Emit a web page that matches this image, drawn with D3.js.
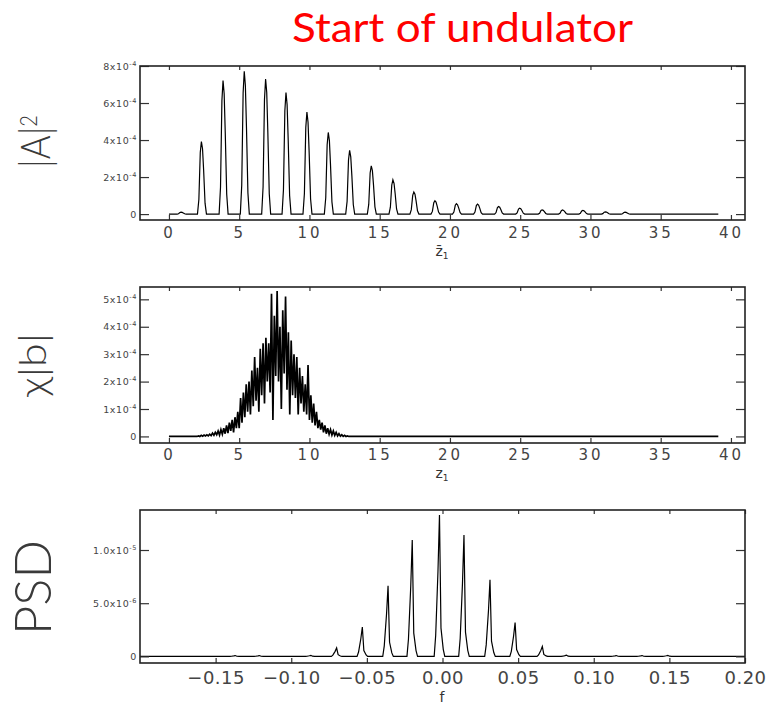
<!DOCTYPE html>
<html>
<head>
<meta charset="utf-8">
<script src="https://cdn.jsdelivr.net/npm/d3@7"></script>
<style>
  body { margin: 0; background: #fff; }
  svg text { font-family: "DejaVu Sans", sans-serif; }
</style>
</head>
<body>
<div id="chart"></div>
<script>
// panel 1 : |A|^2 peaks (z1, value in 1e-4)
const ampPeakZ = [0.9, 2.35, 3.89, 5.4, 6.92, 8.37, 9.86, 11.38, 12.9, 14.44, 15.98, 17.47, 18.97, 20.5, 22.0, 23.5, 25.0, 26.6, 28.05, 29.5, 31.1, 32.5];
const ampPeakVal = [0.1, 3.92, 7.22, 7.71, 7.3, 6.57, 5.51, 4.41, 3.44, 2.61, 1.85, 1.19, 0.72, 0.56, 0.54, 0.41, 0.32, 0.23, 0.22, 0.2, 0.12, 0.1];
const ampRange = [0, 39.1];

// panel 2 : chi|b| samples, z1 from 2.0 in steps of 0.1 (value in 1e-4)
const chiStart = 2.0, chiStep = 0.1;
const chiVal = [
  0, 0.02, 0, 0.04, 0.01, 0.05, 0.02, 0.06, 0.02, 0.08,
  0.03, 0.12, 0.04, 0.15, 0.06, 0.2, 0.05, 0.25, 0.08, 0.3,
  0.1, 0.4, 0.12, 0.5, 0.2, 0.6, 0.15, 0.7, 0.3, 0.9,
  0.3, 1.4, 0.5, 1.6, 0.7, 1.9, 0.9, 2.0, 0.8, 2.4,
  1.1, 2.9, 1.3, 2.5, 0.9, 3.2, 1.5, 3.4, 1.2, 3.6,
  2.0, 3.4, 1.6, 5.2, 0.6, 4.4, 2.2, 5.3, 2.0, 4.0,
  1.0, 4.6, 2.3, 5.1, 1.7, 3.8, 0.8, 3.5, 1.5, 3.0,
  1.4, 2.9, 0.8, 2.5, 1.2, 2.2, 0.9, 1.9, 0.8, 2.6,
  0.6, 1.5, 0.5, 1.2, 0.4, 0.9, 0.3, 0.6, 0.25, 0.5,
  0.15, 0.4, 0.1, 0.3, 0.08, 0.25, 0.05, 0.2, 0.04, 0.15,
  0.02, 0.1, 0.01, 0.06, 0, 0.04, 0, 0.02, 0, 0,
  0
];
const chiRange = [0, 39.1];

// panel 3 : PSD peaks (f, value in 1e-6)
const psdPeakF = [-0.137, -0.121, -0.087, -0.070, -0.053, -0.036, -0.020, -0.002, 0.0142, 0.0314, 0.048, 0.066, 0.082, 0.115, 0.132, 0.149];
const psdPeakVal = [0.08, 0.08, 0.1, 0.79, 2.76, 6.63, 10.95, 13.3, 11.4, 7.2, 3.19, 0.94, 0.12, 0.08, 0.08, 0.1];
const psdRange = [-0.2, 0.2];

// ticks
const zTicks = [0, 5, 10, 15, 20, 25, 30, 35, 40];
const fTicks = [-0.15, -0.10, -0.05, 0.00, 0.05, 0.10, 0.15, 0.20];
const fTickLabels = ["\u22120.15", "\u22120.10", "\u22120.05", "0.00", "0.05", "0.10", "0.15", "0.20"];
const ampTicks = [0, 2, 4, 6, 8];
const ampTickLabels = [["0", ""], ["2x10", "-4"], ["4x10", "-4"], ["6x10", "-4"], ["8x10", "-4"]];
const chiTicks = [0, 1, 2, 3, 4, 5];
const chiTickLabels = [["0", ""], ["1x10", "-4"], ["2x10", "-4"], ["3x10", "-4"], ["4x10", "-4"], ["5x10", "-4"]];
const psdTicks = [0, 5, 10];
const psdTickLabels = [["0", ""], ["5.0x10", "-6"], ["1.0x10", "-5"]];

const width = 769, height = 707;
const left = 140, right = 745;

const svg = d3.select("#chart").append("svg")
  .attr("width", width).attr("height", height);

// title
svg.append("text")
  .attr("x", 292).attr("y", 42)
  .attr("textLength", 341).attr("lengthAdjust", "spacingAndGlyphs")
  .style("font-family", "Lato, 'Open Sans', sans-serif")
  .style("font-weight", 400)
  .style("font-size", "41px").attr("fill", "#ff0000")
  .text("Start of undulator");

// peak shapes -> points
function peakPoints(centers, vals, range, offs) {
  const pts = [[range[0], 0]];
  centers.forEach((c, i) => {
    offs.forEach(o => pts.push([c + o[0], vals[i] * o[1]]));
  });
  pts.push([range[1], 0]);
  return pts;
}

const ampShape = [[-0.32, 0], [-0.22, 0.2], [-0.12, 0.85], [-0.04, 1], [0.04, 0.9], [0.12, 0.6], [0.22, 0.15], [0.32, 0]];
const psdShape = [[-0.0035, 0], [-0.0025, 0.15], [-0.001, 0.6], [0, 1], [0.001, 0.2], [0.0025, 0.05], [0.0035, 0]];

const ampPts = peakPoints(ampPeakZ, ampPeakVal, ampRange, ampShape);
const chiPts = [[chiRange[0], 0]].concat(chiVal.map((v, i) => [chiStart + i * chiStep, v]), [[chiRange[1], 0]]);
const psdPts = peakPoints(psdPeakF, psdPeakVal, psdRange, psdShape);

function panel(opt) {
  const x = d3.scaleLinear().domain(opt.xDomain).range([left, right]);
  const y = d3.scaleLinear().domain(opt.yDomain).range([opt.bottom, opt.top]);
  const g = svg.append("g");

  // data line
  g.append("path")
    .datum(opt.points)
    .attr("fill", "none")
    .attr("stroke", "#000")
    .attr("stroke-width", opt.lineWidth)
    .attr("d", d3.line().x(d => x(d[0])).y(d => y(d[1])));

  // axes
  const xb = g.append("g").attr("transform", "translate(0," + opt.bottom + ")")
    .call(d3.axisBottom(x).tickValues(opt.xTicks).tickSize(-5).tickPadding(opt.xPad)
      .tickFormat((d, i) => opt.xLabels[i]));
  xb.selectAll("text").attr("fill", "#444").style("font-size", opt.xFont + "px")
    .style("letter-spacing", opt.xSpacing + "px");
  g.append("g").attr("transform", "translate(0," + opt.top + ")")
    .call(d3.axisTop(x).tickValues(opt.xTicks).tickSize(-4).tickFormat(""));

  const yl = g.append("g").attr("transform", "translate(" + left + ",0)")
    .call(d3.axisLeft(y).tickValues(opt.yTicks).tickSize(-9).tickPadding(3).tickFormat(""));
  yl.selectAll(".tick text").each(function(d, i) {
    const t = d3.select(this).attr("fill", "#444").style("font-size", "9.5px")
      .style("letter-spacing", "0.6px");
    const lab = opt.yLabels[i];
    t.append("tspan").text(lab[0]);
    if (lab[1]) t.append("tspan").attr("dy", -4).style("font-size", "6.5px").text(lab[1]);
  });
  g.append("g").attr("transform", "translate(" + right + ",0)")
    .call(d3.axisRight(y).tickValues(opt.yTicks).tickSize(-9).tickFormat(""));

  g.selectAll(".domain").remove();
  g.selectAll(".tick line").attr("stroke", "#333").attr("stroke-width", 1.2);

  // frame
  g.append("rect")
    .attr("x", left).attr("y", opt.top)
    .attr("width", right - left).attr("height", opt.bottom - opt.top)
    .attr("fill", "none").attr("stroke", "#222").attr("stroke-width", 1.6);

  // x title
  g.append("text")
    .attr("x", 442).attr("y", opt.xTitleY)
    .attr("text-anchor", "middle").attr("fill", "#333").style("font-size", "14px")
    .html(opt.xTitle);

  // y title (rotated)
  const yt = g.append("text")
    .attr("transform", "translate(" + opt.yTitleX + "," + opt.yTitleY + ") rotate(-90)")
    .attr("textLength", opt.yTitleLen).attr("lengthAdjust", "spacingAndGlyphs")
    .attr("fill", "#3a3a3a")
    .style("font-family", "Lato, 'DejaVu Sans', sans-serif")
    .style("font-weight", 300)
    .style("font-size", opt.yTitleSize + "px");
  yt.append("tspan").text(opt.yTitle[0]);
  if (opt.yTitle[1]) yt.append("tspan").attr("dy", -13).style("font-size", (opt.yTitleSize * 0.55) + "px").text(opt.yTitle[1]);
}

panel({
  points: ampPts, lineWidth: 1.2, xDomain: [-2.06, 41.0], yDomain: [-0.32, 8.0], top: 66, bottom: 220,
  xTicks: zTicks, xLabels: zTicks.map(String), xPad: 7, xFont: 15, xSpacing: 3,
  yTicks: ampTicks, yLabels: ampTickLabels,
  xTitle: "z\u0304<tspan dy='3' style='font-size:9px'>1</tspan>", xTitleY: 256,
  yTitle: ["|A|", "2"], yTitleX: 50, yTitleY: 168, yTitleLen: 53, yTitleSize: 42
});

panel({
  points: chiPts, lineWidth: 1.7, xDomain: [-2.06, 41.0], yDomain: [-0.24, 5.45], top: 287, bottom: 443,
  xTicks: zTicks, xLabels: zTicks.map(String), xPad: 6, xFont: 15, xSpacing: 3,
  yTicks: chiTicks, yLabels: chiTickLabels,
  xTitle: "z<tspan dy='3' style='font-size:9px'>1</tspan>", xTitleY: 478,
  yTitle: ["\u03c7|b|", ""], yTitleX: 46, yTitleY: 397, yTitleLen: 64, yTitleSize: 38
});

panel({
  points: psdPts, lineWidth: 1.2, xDomain: [-0.2, 0.2], yDomain: [-0.62, 13.76], top: 510, bottom: 663,
  xTicks: fTicks, xLabels: fTickLabels, xPad: 8, xFont: 18, xSpacing: 0.5,
  yTicks: psdTicks, yLabels: psdTickLabels,
  xTitle: "f", xTitleY: 702,
  yTitle: ["PSD", ""], yTitleX: 51, yTitleY: 635, yTitleLen: 95, yTitleSize: 51
});
</script>
</body>
</html>
